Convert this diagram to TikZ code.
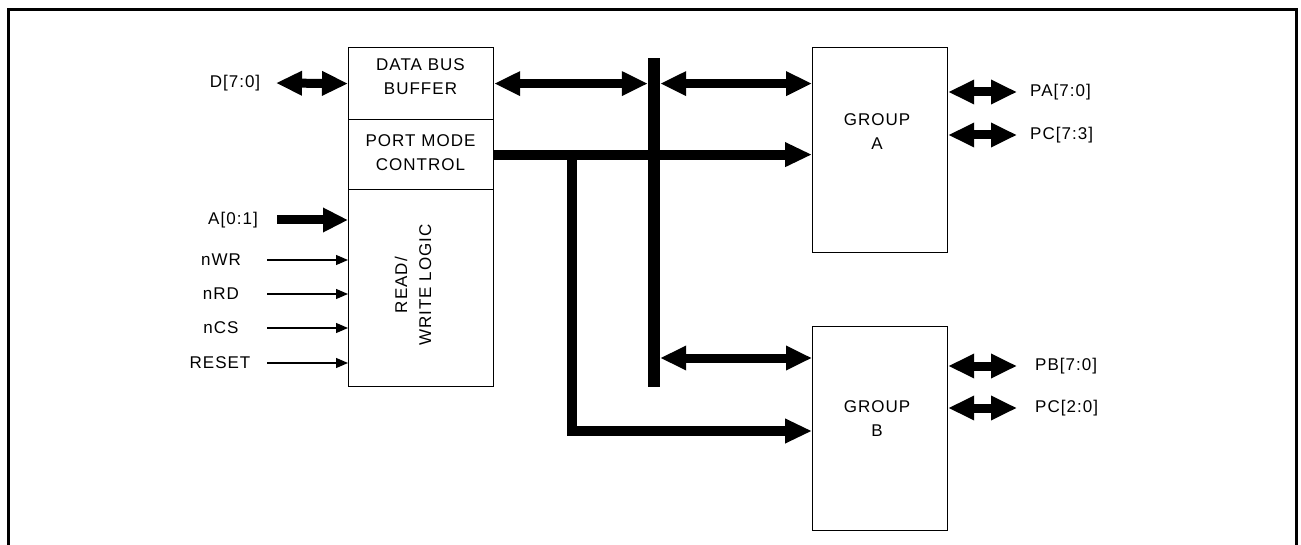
\documentclass[tikz,border=0pt]{standalone}
\usepackage{fontspec}
\setmainfont{Liberation Sans}[LetterSpace=6]
\usetikzlibrary{arrows.meta,calc}

\begin{document}
\begin{tikzpicture}[x=1pt,y=-1pt,
  every node/.style={font=\fontsize{17}{24}\selectfont},
  block/.style={draw,line width=1.2pt,inner sep=0pt,anchor=north west},
  txt/.style={inner sep=0pt,align=center},
  bus/.style={line width=9pt,{Triangle[length=26pt,width=23pt]}-{Triangle[length=26pt,width=23pt]}},
  ctrl/.style={line width=10pt,line join=miter,-{Triangle[length=27pt,width=23pt]}},
  sig/.style={line width=1.3pt,-{Triangle[length=12pt,width=10pt]}},
  frame/.style={line width=3pt}]
\useasboundingbox (0,0) rectangle (1301,545);

% outer frame
\draw[frame] (8,545) -- (8,10) -- (1296,10) -- (1296,545);

% 8255 interface block
\node[block,minimum width=145pt,minimum height=72pt]  (dbb) at (348,47)  {};
\node[block,minimum width=145pt,minimum height=70pt]  (pmc) at (348,119) {};
\node[block,minimum width=145pt,minimum height=197pt] (rwl) at (348,189) {};
\node[txt] (dbbt) at (420.5,77) {DATA BUS\\BUFFER};
\node[txt] (pmct) at (420.5,153) {PORT MODE\\CONTROL};
\node[txt,rotate=90] (rwlt) at (413,285) {READ/\\WRITE LOGIC};

% port groups
\node[block,minimum width=135pt,minimum height=205pt] (ga) at (812,47)  {};
\node[block,minimum width=135pt,minimum height=204pt] (gb) at (812,326) {};
\node[txt] (gat) at (877,132) {GROUP\\A};
\node[txt] (gbt) at (877,419) {GROUP\\B};

% internal data bus
\node[fill,inner sep=0pt,minimum width=12pt,minimum height=329pt,anchor=north] (bar) at (654,58) {};

% data bus connections
\node[txt] (dl) at (235,83) {D[7:0]};
\coordinate (din) at (276,83);
\draw[bus] (din) -- (dbb.west);
\draw[bus] (dbb.east) -- (dbb.east -| bar.west);
\draw[bus] (dbb.east -| bar.east) -- (dbb.east -| ga.west);
\coordinate (gbbus) at ($(gb.north west)+(0,32)$);
\draw[bus] (gbbus -| bar.east) -- (gbbus);

% mode control lines
\draw[ctrl] (pmc.east) -- (pmc.east -| ga.west);
\coordinate (br) at ($(pmc.east)+(78,0)$);
\coordinate (gbctl) at ($(gb.north west)+(0,105)$);
\draw[ctrl] (br) |- (gbctl);

% control inputs
\node[txt] (al) at (233,220) {A[0:1]};
\coordinate (ain) at (277,220);
\draw[ctrl,line width=9pt,-{Triangle[length=25pt,width=23pt]}] (ain) -- (ain -| rwl.west);
\node[txt] (wrl) at (221,260) {nWR};
\node[txt] (rdl) at (221,294) {nRD};
\node[txt] (csl) at (221,328) {nCS};
\node[txt] (rsl) at (220,363) {RESET};
\coordinate (wrin) at (267,260);
\coordinate (rdin) at (267,294);
\coordinate (csin) at (267,328);
\coordinate (rsin) at (267,363);
\draw[sig] (wrin) -- (wrin -| rwl.west);
\draw[sig] (rdin) -- (rdin -| rwl.west);
\draw[sig] (csin) -- (csin -| rwl.west);
\draw[sig] (rsin) -- (rsin -| rwl.west);

% port outputs
\coordinate (pa)  at ($(ga.north east)+(0,45)$);
\coordinate (pch) at ($(ga.north east)+(0,88)$);
\coordinate (pb)  at ($(gb.north east)+(0,40)$);
\coordinate (pcl) at ($(gb.north east)+(0,82)$);
\coordinate (paend)  at (1017,0 |- pa);
\coordinate (pchend) at (1017,0 |- pch);
\coordinate (pbend)  at (1017,0 |- pb);
\coordinate (pclend) at (1017,0 |- pcl);
\draw[bus] (pa) -- (paend);
\draw[bus] (pch) -- (pchend);
\draw[bus] (pb) -- (pbend);
\draw[bus] (pcl) -- (pclend);
\node[txt,anchor=west] (pal)  at (1030,92)  {PA[7:0]};
\node[txt,anchor=west] (pchl) at (1030,135) {PC[7:3]};
\node[txt,anchor=west] (pbl)  at (1035,366) {PB[7:0]};
\node[txt,anchor=west] (pcll) at (1035,408) {PC[2:0]};
\end{tikzpicture}
\end{document}
